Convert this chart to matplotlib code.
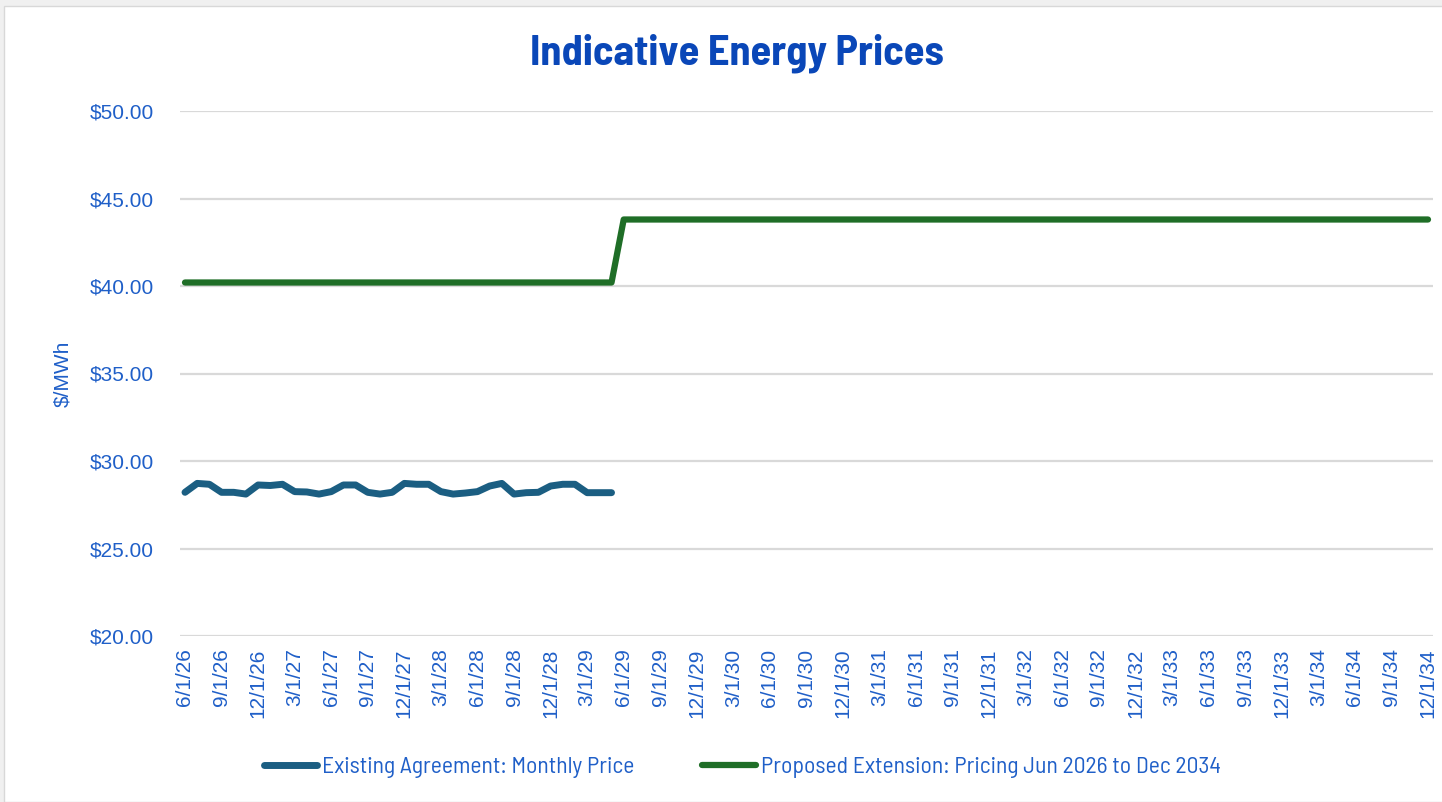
import matplotlib
matplotlib.use("Agg")
import matplotlib.pyplot as plt
from matplotlib.patches import Rectangle
import numpy as np

# ---- data ----
start_year, start_month = 2026, 6
n_months = 103  # 6/1/26 .. 12/1/34

existing_price = [28.21, 28.72, 28.67, 28.21, 28.21, 28.11, 28.63, 28.60, 28.67, 28.25,
                  28.23, 28.11, 28.25, 28.63, 28.63, 28.21, 28.11, 28.21, 28.72, 28.67,
                  28.67, 28.25, 28.11, 28.17, 28.25, 28.57, 28.72, 28.11, 28.19, 28.21,
                  28.57, 28.67, 28.67, 28.19, 28.19, 28.19]
ext_price_phase1 = 40.2   # Jun 2026 - May 2029
ext_phase1_months = 36
ext_price_phase2 = 43.8   # Jun 2029 - Dec 2034

def month_label(i):
    m = start_month - 1 + i
    y = start_year + m // 12
    mo = m % 12 + 1
    return f"{mo}/1/{y % 100:02d}"

dates = [month_label(i) for i in range(n_months)]
proposed_price = [ext_price_phase1] * ext_phase1_months + [ext_price_phase2] * (n_months - ext_phase1_months)

tick_idx = list(range(0, n_months, 3))
tick_labels = [dates[i] for i in tick_idx]
y_ticks = [20, 25, 30, 35, 40, 45, 50]

# ---- style ----
narrow = ['Barlow Semi Condensed', 'Roboto Condensed', 'Asap Condensed', 'DejaVu Sans']
arial = ['Liberation Sans', 'Arimo', 'DejaVu Sans']
label_col = '#1f5fc8'
blue = '#1b5e82'
green = '#1f6e27'

fig = plt.figure(figsize=(14.42, 8.02), dpi=100, facecolor='#f0f0f0')
fig.patches.append(Rectangle((4 / 1442, 0), 1, 1 - 6 / 802, transform=fig.transFigure,
                             facecolor='white', edgecolor='#d8d8d8', lw=1, zorder=-5))

ax = fig.add_axes([180 / 1442, 1 - 636 / 802, (1433 - 180) / 1442, (636 - 111) / 802])
ax.set_facecolor('none')
ax.set_zorder(2)

x = np.arange(n_months)
ax.plot(x[:len(existing_price)], existing_price, color=blue, lw=5, solid_capstyle='round',
        solid_joinstyle='round', label='Existing Agreement: Monthly Price', zorder=3)
ax.plot(x, proposed_price, color=green, lw=4.5, solid_capstyle='round',
        solid_joinstyle='round', label='Proposed Extension: Pricing Jun 2026 to Dec 2034', zorder=3)

ax.set_xlim(-0.41, n_months - 1 + 0.41)
ax.set_ylim(20, 50)
ax.set_yticks(y_ticks)
ax.set_yticklabels([f"${v:.2f}" for v in y_ticks], fontfamily=arial,
                   fontsize=15, color=label_col)
ax.set_xticks(tick_idx)
ax.set_xticklabels(tick_labels, rotation=90, fontfamily=arial,
                   fontsize=15, color=label_col)
ax.tick_params(axis='both', length=0)
ax.tick_params(axis='y', pad=19)
ax.tick_params(axis='x', pad=9)
ax.grid(axis='y', color='#d9d9d9', lw=1.6, zorder=0)
ax.set_axisbelow(True)
for s in ax.spines.values():
    s.set_visible(False)

ax.set_ylabel('$/MWh', fontfamily=arial, fontsize=15,
              color=label_col, labelpad=12)

fig.text(737 / 1442, 1 - 53 / 802, 'Indicative Energy Prices', ha='center', va='center',
         fontfamily=narrow, fontweight='bold', fontsize=30.5, color='#0a47b8')

leg = fig.legend(loc='center', bbox_to_anchor=(742 / 1442, 1 - 767 / 802), ncol=2, frameon=False,
                 prop={'family': narrow, 'size': 17}, handlelength=2.25, handletextpad=0.21,
                 columnspacing=2.9)
for t in leg.get_texts():
    t.set_color(label_col)

fig.savefig('out.png', dpi=100, facecolor=fig.get_facecolor())
